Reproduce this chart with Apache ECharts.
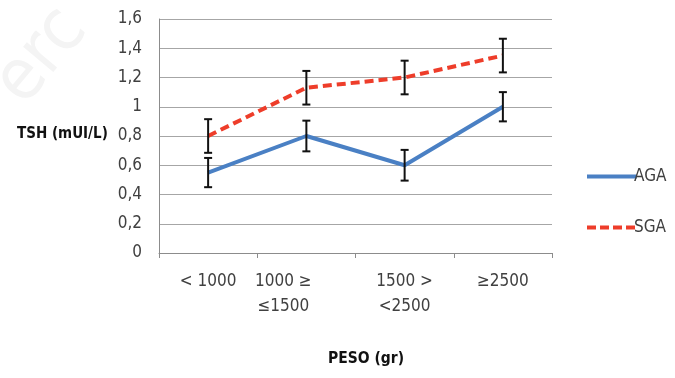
<!DOCTYPE html>
<html><head><meta charset="utf-8">
<script src="https://cdn.jsdelivr.net/npm/echarts@6/dist/echarts.min.js"></script>
<style>html,body{margin:0;padding:0;background:#fff}#c{width:675px;height:378px}</style>
</head><body><div id="c"></div>
<script>
const categories = ['< 1000', '1000 ≥\n≤1500', '1500 >\n<2500', '≥2500'];
const agaValues = [0.55, 0.80, 0.60, 1.00];
const agaErrors = [0.10, 0.105, 0.105, 0.10];
const sgaValues = [0.80, 1.13, 1.20, 1.35];
const sgaErrors = [0.115, 0.115, 0.115, 0.115];
const yTicks = [0, 0.2, 0.4, 0.6, 0.8, 1.0, 1.2, 1.4, 1.6];

const FONT = "'DejaVu Sans Condensed', 'Liberation Sans Narrow', sans-serif";
const FS = 17;
const chart = echarts.init(document.getElementById('c'), null, {renderer: 'canvas'});

function errSeries(vals, errs) {
  return {
    type: 'custom',
    silent: true,
    z: 5,
    data: vals.map((v, i) => [i, v - errs[i], v + errs[i]]),
    renderItem: function (params, api) {
      const lo = api.coord([api.value(0), api.value(1)]);
      const hi = api.coord([api.value(0), api.value(2)]);
      const x = lo[0], w = 4;
      const st = {stroke: '#111', lineWidth: 2};
      return {type: 'group', children: [
        {type: 'line', shape: {x1: x, y1: lo[1], x2: x, y2: hi[1]}, style: st},
        {type: 'line', shape: {x1: x - w, y1: lo[1], x2: x + w, y2: lo[1]}, style: st},
        {type: 'line', shape: {x1: x - w, y1: hi[1], x2: x + w, y2: hi[1]}, style: st}
      ]};
    }
  };
}

chart.setOption({
  animation: false,
  textStyle: {fontFamily: FONT},
  grid: {left: 159, right: 123, top: 19, bottom: 125, containLabel: false},
  legend: {
    orient: 'vertical', left: 580, top: 163, itemWidth: 50, itemHeight: 12, itemGap: 34,
    textStyle: {fontFamily: FONT, fontSize: FS, color: '#404040', padding: [0, 0, 0, -8]},
    data: [
      {name: 'AGA', itemStyle: {opacity: 0}, lineStyle: {width: 4, color: '#4a80c4'}},
      {name: 'SGA', itemStyle: {opacity: 0}, lineStyle: {width: 4, color: '#ee3d2a', type: [9, 4]}}
    ]
  },
  xAxis: {
    type: 'category', data: categories, boundaryGap: true,
    axisLine: {lineStyle: {color: '#8c8c8c', width: 1}},
    axisTick: {show: true, length: 5, lineStyle: {color: '#8c8c8c'}},
    axisLabel: {
      margin: 16, fontFamily: FONT, fontSize: FS, color: '#404040', lineHeight: 25, interval: 0,
      formatter: function (v, i) {
        if (i === 1) return v.split('\n').map(s => '{s|' + s + '}').join('\n');
        return v;
      },
      rich: {s: {fontFamily: FONT, fontSize: FS, color: '#404040', lineHeight: 25, padding: [0, 46, 0, 0]}}
    }
  },
  yAxis: {
    type: 'value', min: 0, max: 1.6, interval: 0.2,
    axisLine: {show: true, lineStyle: {color: '#8c8c8c', width: 1}},
    axisTick: {show: false},
    splitLine: {lineStyle: {color: '#a6a6a6', width: 1}},
    axisLabel: {
      margin: 17, fontFamily: FONT, fontSize: FS, color: '#404040',
      formatter: function (v) {
        const t = yTicks.find(t => Math.abs(t - v) < 1e-9);
        return String(Math.round((t !== undefined ? t : v) * 10) / 10).replace('.', ',');
      }
    }
  },
  graphic: [
    {type: 'text', x: -18, y: 72, rotation: Math.PI / 3.6, z: -1,
     style: {text: 'erc', font: '72px ' + FONT, fill: '#f4f4f4'}},
    {type: 'text', left: 17, top: 127, style: {text: 'TSH (mUI/L)', font: 'bold 15px ' + FONT, fill: '#111'}},
    {type: 'text', left: 328, top: 351, style: {text: 'PESO (gr)', font: 'bold 15.5px ' + FONT, fill: '#111'}}
  ],
  series: [
    {name: 'AGA', type: 'line', data: agaValues, symbol: 'none', z: 3,
     lineStyle: {color: '#4a80c4', width: 4}, itemStyle: {color: '#4a80c4'}},
    {name: 'SGA', type: 'line', data: sgaValues, symbol: 'none', z: 3,
     lineStyle: {color: '#ee3d2a', width: 4, type: [9, 5]}, itemStyle: {color: '#ee3d2a'}},
    errSeries(agaValues, agaErrors),
    errSeries(sgaValues, sgaErrors)
  ]
});
</script></body></html>
